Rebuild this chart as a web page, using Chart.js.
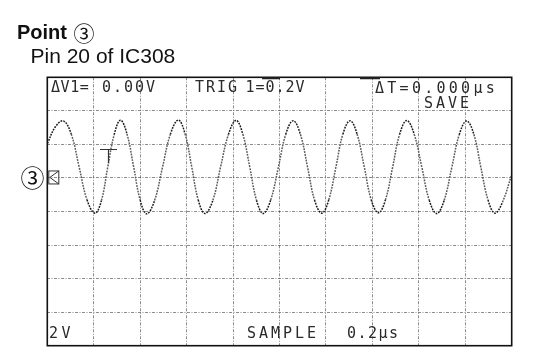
<!DOCTYPE html>
<html>
<head>
<meta charset="utf-8">
<script src="https://cdn.jsdelivr.net/npm/chart.js@4/dist/chart.umd.min.js"></script>
<style>
  html, body { margin: 0; padding: 0; background: #fff; }
  canvas { display: block; }
</style>
</head>
<body>
<canvas id="scope" width="539" height="350" style="width:539px;height:350px"></canvas>
<script>
// Captured trace: time in microseconds, voltage in volts (2 V/div, 0.2 us/div)
const timeUs = [
  0, 0.035, 0.069, 0.103, 0.137, 0.171, 0.205, 0.233, 0.260, 0.288,
  0.315, 0.343, 0.372, 0.400, 0.428, 0.462, 0.496, 0.530, 0.564, 0.593,
  0.622, 0.650, 0.679, 0.713, 0.746, 0.780, 0.813, 0.842, 0.872, 0.901,
  0.930, 0.962, 0.995, 1.027, 1.059, 1.090, 1.121, 1.151, 1.182, 1.212,
  1.243, 1.273, 1.304, 1.334, 1.365, 1.395, 1.426, 1.456, 1.487, 1.517,
  1.548, 1.580, 1.613, 1.645, 1.677, 1.709, 1.742, 1.774, 1.806, 1.837,
  1.867, 1.898, 1.928, 1.960, 2.0
];
const voltsV = [
  2.05, 3.05, 3.40, 2.62, 0.66, -1.30, -2.10, -1.35, 0.62, 2.58,
  3.44, 2.63, 0.65, -1.32, -2.14, -1.34, 0.63, 2.60, 3.45, 2.64,
  0.66, -1.31, -2.12, -1.33, 0.64, 2.59, 3.43, 2.61, 0.65, -1.33,
  -2.12, -1.32, 0.63, 2.60, 3.41, 2.60, 0.64, -1.32, -2.10, -1.31,
  0.65, 2.61, 3.41, 2.62, 0.66, -1.30, -2.08, -1.32, 0.63, 2.59,
  3.42, 2.61, 0.64, -1.33, -2.12, -1.34, 0.62, 2.58, 3.40, 2.60,
  0.65, -1.31, -2.10, -1.45, 0.20
];

// Screen range: 10 horizontal divisions, 8 vertical divisions, ground 3 divs from top
const timeRange = [0, 2.0];
const timeStep = 0.2;
const voltRange = [-10, 6];
const voltStep = 2;

// Readouts shown on the scope screen
const titleMain = 'Point';
const titleSub = 'Pin 20 of IC308';
const pointMark = '\u2462';
const readoutDeltaV = ['\u0394V1=', '0.00V'];
const readoutTrig = ['TRIG', '1=0.2V'];
const readoutDeltaT = '\u0394T=0.000\u00b5s';
const readoutMode = 'SAVE';
const readoutVdiv = '2V';
const readoutAcq = 'SAMPLE';
const readoutTdiv = '0.2\u00b5s';

function spaced(ctx, str, x, y, pitch) {
  Array.from(str).forEach((ch, i) => ctx.fillText(ch, x + i * pitch, y));
}

const screenDecor = {
  id: 'screenDecor',
  afterDraw(chart) {
    const ctx = chart.ctx;
    const a = chart.chartArea;
    const ys = chart.scales.y;
    ctx.save();

    // heading
    ctx.fillStyle = '#111';
    ctx.textBaseline = 'alphabetic';
    ctx.textAlign = 'left';
    ctx.font = "bold 20px 'Liberation Sans', Arial, sans-serif";
    ctx.fillText(titleMain, 17, 39);
    const w = ctx.measureText(titleMain + ' ').width;
    ctx.font = "21px 'Noto Sans CJK JP', sans-serif";
    ctx.fillText(pointMark, 18 + w, 40.5);
    ctx.font = "21px 'Liberation Sans', Arial, sans-serif";
    ctx.fillText(titleSub, 30.5, 63.3);

    // ground reference marker at left
    ctx.font = "24px 'Noto Sans CJK JP', sans-serif";
    ctx.textAlign = 'center';
    const gy = ys.getPixelForValue(0);
    ctx.fillText(pointMark, 32.5, gy + 9);
    ctx.textAlign = 'left';

    // screen frame
    ctx.strokeStyle = '#111';
    ctx.lineWidth = 1.6;
    ctx.strokeRect(a.left, a.top, a.right - a.left, a.bottom - a.top);

    // ground marker box
    ctx.lineWidth = 1;
    ctx.strokeStyle = '#333';
    const bx = a.left + 1, bw = 10, bh = 13;
    ctx.strokeRect(bx + 0.5, gy - 7, bw, bh);
    ctx.beginPath();
    ctx.moveTo(bx + bw + 0.5, gy - 7);
    ctx.lineTo(bx + 1.5, gy - 0.5);
    ctx.lineTo(bx + bw + 0.5, gy + 6);
    ctx.stroke();

    // trigger marker inside the screen
    ctx.strokeStyle = '#333';
    ctx.lineWidth = 1.2;
    ctx.beginPath();
    ctx.moveTo(100, 149.5); ctx.lineTo(117, 149.5);
    ctx.moveTo(108.5, 149.5); ctx.lineTo(108.5, 163);
    ctx.stroke();

    // cursor marks on the top edge
    ctx.lineWidth = 2;
    ctx.strokeStyle = '#222';
    ctx.beginPath();
    ctx.moveTo(262, a.top + 1); ctx.lineTo(280, a.top + 1);
    ctx.moveTo(360, a.top + 1); ctx.lineTo(380, a.top + 1);
    ctx.stroke();

    // readouts
    ctx.fillStyle = '#2a2a2a';
    ctx.font = "15px 'DejaVu Sans Mono', monospace";
    spaced(ctx, readoutDeltaV[0], 51, 92, 9.6);
    spaced(ctx, readoutDeltaV[1], 102, 92, 11);
    spaced(ctx, readoutTrig[0], 195, 92, 11);
    spaced(ctx, readoutTrig[1], 245.5, 92, 10);
    spaced(ctx, readoutDeltaT, 375, 93, 12.3);
    spaced(ctx, readoutMode, 424, 107.5, 12);
    spaced(ctx, readoutVdiv, 49, 338, 12.5);
    spaced(ctx, readoutAcq, 247, 338, 12);
    spaced(ctx, readoutTdiv, 347, 338, 10.5);

    ctx.restore();
  }
};

const gridStyle = {
  color: 'rgba(45,45,45,0.55)',
  lineWidth: 1,
  drawTicks: false
};

// steep parts of the sampled trace show fewer dots, so draw them lighter
const traceShade = c => {
  const dy = Math.abs(c.p1.parsed.y - c.p0.parsed.y);
  return dy > 1.6 ? '#5a5a5a' : '#1a1a1a';
};

new Chart(document.getElementById('scope'), {
  type: 'line',
  data: {
    datasets: [{
      data: timeUs.map((t, i) => ({ x: t, y: voltsV[i] })),
      borderColor: '#1c1c1c',
      borderWidth: 1.5,
      borderDash: [1.8, 1.1],
      segment: { borderColor: traceShade },
      pointRadius: 0,
      tension: 0.4,
      fill: false
    }]
  },
  options: {
    responsive: false,
    animation: false,
    events: [],
    layout: { padding: { left: 47.3, top: 77.3, right: 27.3, bottom: 4.3 } },
    plugins: { legend: { display: false }, tooltip: { enabled: false }, title: { display: false } },
    scales: {
      x: {
        type: 'linear',
        min: timeRange[0], max: timeRange[1],
        ticks: { display: false, stepSize: timeStep },
        grid: gridStyle,
        border: { display: false, dash: [3, 1.5, 1, 1.5] }
      },
      y: {
        type: 'linear',
        min: voltRange[0], max: voltRange[1],
        ticks: { display: false, stepSize: voltStep },
        grid: gridStyle,
        border: { display: false, dash: [3, 1.5, 1, 1.5] }
      }
    }
  },
  plugins: [screenDecor]
});
</script>
</body>
</html>
